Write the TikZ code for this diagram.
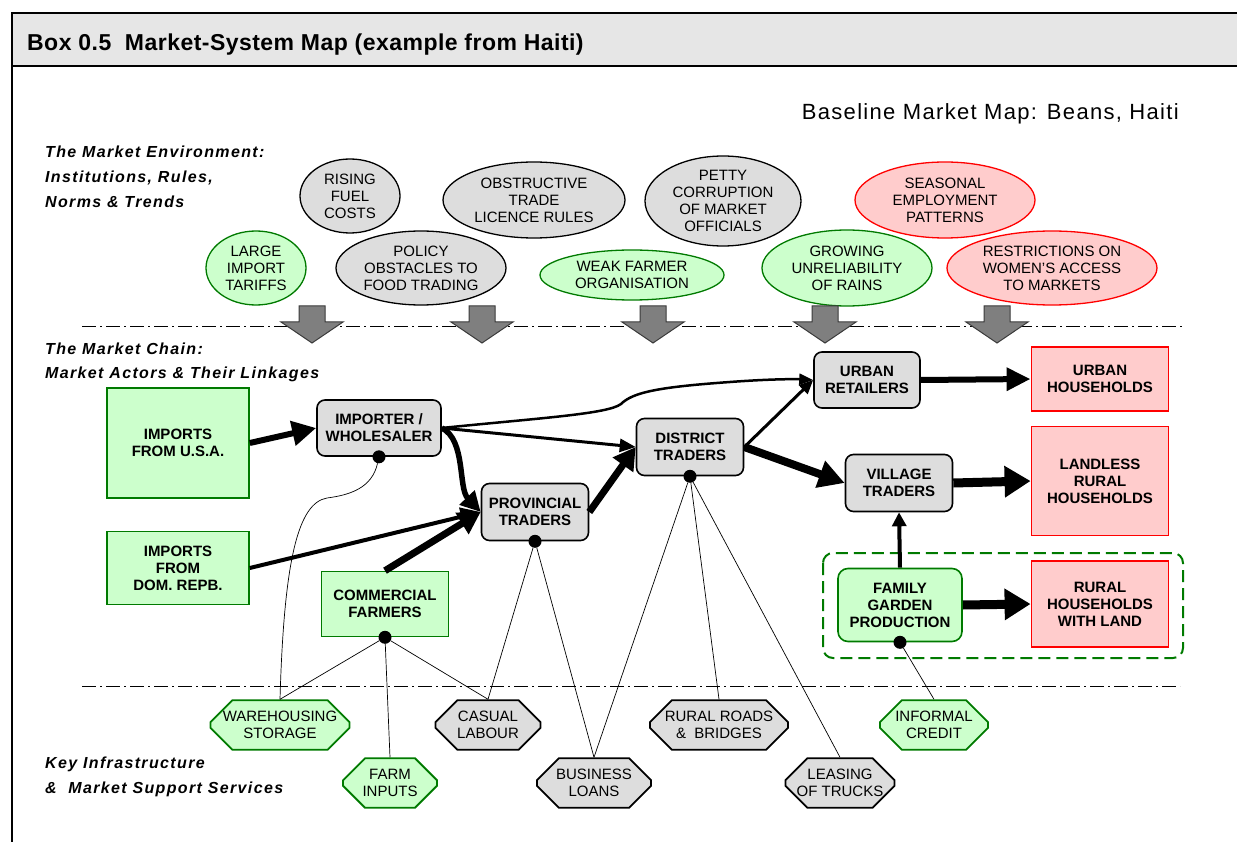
\documentclass[tikz,border=0pt]{standalone}
\usepackage{fontspec}
\setmainfont{Liberation Sans}
\newfontfamily\sectfont[LetterSpace=8.5]{Liberation Sans}
\newfontfamily\titlefont[LetterSpace=2]{Liberation Sans}
\newfontfamily\basefont[LetterSpace=6]{Liberation Sans}
\usetikzlibrary{shapes.geometric,shapes.misc,arrows.meta}
\definecolor{gfill}{HTML}{CCFFCC}
\definecolor{gline}{HTML}{007A00}
\definecolor{rfill}{HTML}{FFCCCC}
\definecolor{rline}{HTML}{FF0000}
\definecolor{nfill}{HTML}{DDDDDD}
\definecolor{hfill}{HTML}{E6E6E6}
\definecolor{afill}{HTML}{7F7F7F}
\definecolor{aline}{HTML}{3A3A3A}
\tikzset{
  reg/.style={font=\fontsize{15}{17}\selectfont, align=center, inner sep=0pt},
  bld/.style={font=\bfseries\fontsize{15}{17}\selectfont, align=center},
  sect/.style={font=\sectfont\bfseries\itshape\fontsize{16}{20}\selectfont, anchor=base west, inner sep=0pt},
  envell/.style={ellipse, draw, line width=1.3pt, inner sep=0pt},
  egray/.style={envell, fill=nfill, draw=black},
  egreen/.style={envell, fill=gfill, draw=gline},
  ered/.style={envell, fill=rfill, draw=rline},
  gbox/.style={bld, rectangle, fill=gfill, draw=gline, line width=1.6pt},
  rbox/.style={bld, rectangle, fill=rfill, draw=rline, line width=1.8pt},
  tbox/.style={bld, rectangle, rounded corners=8pt, fill=nfill, draw=black, line width=1.6pt},
  gtbox/.style={bld, rectangle, rounded corners=10pt, fill=gfill, draw=gline, line width=1.6pt},
  oct/.style={font=\fontsize{15}{17}\selectfont, align=center, chamfered rectangle, chamfered rectangle xsep=11pt, chamfered rectangle ysep=11pt, line width=1.8pt, inner sep=0pt},
  ogreen/.style={oct, fill=gfill, draw=gline},
  ogray/.style={oct, fill=nfill, draw=black},
  dot/.style={circle, fill=black, inner sep=0pt, minimum size=13pt},
  link/.style={draw=black, line width=0.7pt},
  fa/.style n args={3}{draw=black, line width=#1, -{Triangle[length=#2,width=#3]}},
  blockarrow/.style={fill=afill, draw=aline, line width=1pt},
  dashdot/.style={line width=0.9pt, dash pattern=on 14pt off 4pt on 2pt off 4pt},
}
\begin{document}
\begin{tikzpicture}[x=1pt,y=-1pt]
\useasboundingbox (0,0) rectangle (1237,842);
% frame and header
\fill[hfill] (12,13) rectangle (1237,66);
\draw[line width=2.5pt] (1237,13) -- (12,13) -- (12,842);
\draw[line width=2pt] (12,66) -- (1237,66);
\node[anchor=base west, inner sep=0pt, font=\titlefont\bfseries\fontsize{23}{26}\selectfont] (title) at (27,51) {Box 0.5\ \ Market-System Map (example from Haiti)};
\node[anchor=base east, inner sep=0pt, font=\basefont\fontsize{22}{26}\selectfont] (basel) at (1179,120) {Baseline Market Map: Beans, Haiti};

% section labels
\node[sect] (env1) at (45,158) {The Market Environment:};
\node[sect] (env2) at (45,183) {Institutions, Rules,};
\node[sect] (env3) at (45,208) {Norms \& Trends};
\node[sect] (ch1) at (45,355) {The Market Chain:};
\node[sect] (ch2) at (45,378) {Market Actors \& Their Linkages};
\node[sect] (key1) at (45,768) {Key Infrastructure};
\node[sect] (key2) at (45,793) {\&\ \ Market Support Services};

% separator lines
\draw[dashdot] (82,326) -- (1185,326);
\draw[dashdot] (82,686) -- (1180,686);

% environment ellipses (top row)
\node[egray, minimum width=100pt, minimum height=74pt] (e1) at (350,196) {};
\node[reg] at (e1) {RISING\\FUEL\\COSTS};
\node[egray, minimum width=182pt, minimum height=76pt] (e2) at (534,200) {};
\node[reg] at (e2) {OBSTRUCTIVE\\TRADE\\LICENCE RULES};
\node[egray, minimum width=156pt, minimum height=90pt] (e3) at (723,201) {};
\node[reg] at (e3) {PETTY\\CORRUPTION\\OF MARKET\\OFFICIALS};
\node[ered, minimum width=180pt, minimum height=76pt] (e4) at (945,200) {};
\node[reg] at (e4) {SEASONAL\\EMPLOYMENT\\PATTERNS};
% bottom row
\node[egreen, minimum width=100pt, minimum height=74pt] (e5) at (256,268) {};
\node[reg] at (e5) {LARGE\\IMPORT\\TARIFFS};
\node[egray, minimum width=170pt, minimum height=74pt] (e6) at (421,268) {};
\node[reg] at (e6) {POLICY\\OBSTACLES TO\\FOOD TRADING};
\node[egreen, minimum width=184pt, minimum height=50pt] (e7) at (632,275) {};
\node[reg] at (e7) {WEAK FARMER\\ORGANISATION};
\node[egreen, minimum width=170pt, minimum height=76pt] (e8) at (847,268) {};
\node[reg] at (e8) {GROWING\\UNRELIABILITY\\OF RAINS};
\node[ered, minimum width=210pt, minimum height=74pt] (e9) at (1052,268) {};
\node[reg] at (e9) {RESTRICTIONS ON\\WOMEN'S ACCESS\\TO MARKETS};

% influence block arrows
\foreach \cx in {312,482,653,825,997}
  \filldraw[blockarrow] (\cx-13,306) -- (\cx+13,306) -- (\cx+13,322) -- (\cx+31,322) -- (\cx,343) -- (\cx-31,322) -- (\cx-13,322) -- cycle;

% dashed grouping box
\draw[gline, line width=2pt, dash pattern=on 12pt off 6pt, rounded corners=10pt] (823,553) rectangle (1183,658);

% market chain actors
\node[gbox, minimum width=142pt, minimum height=110pt] (usa) at (178,443) {IMPORTS\\FROM U.S.A.};
\node[tbox, minimum width=124pt, minimum height=56pt] (imp) at (379,428) {IMPORTER /\\WHOLESALER};
\node[gbox, minimum width=142pt, minimum height=73pt] (dom) at (178,568) {IMPORTS\\FROM\\DOM. REPB.};
\node[tbox, minimum width=107pt, minimum height=57pt] (prov) at (535,512) {PROVINCIAL\\TRADERS};
\node[gbox, minimum width=127pt, minimum height=65pt] (com) at (385,604) {COMMERCIAL\\FARMERS};
\node[tbox, minimum width=107pt, minimum height=57pt] (dist) at (690,447) {DISTRICT\\TRADERS};
\node[tbox, minimum width=106pt, minimum height=56pt] (ret) at (867,380) {URBAN\\RETAILERS};
\node[tbox, minimum width=107pt, minimum height=57pt] (vil) at (899,483) {VILLAGE\\TRADERS};
\node[gtbox, minimum width=124pt, minimum height=73pt] (fam) at (900,605) {FAMILY\\GARDEN\\PRODUCTION};
\node[rbox, minimum width=137pt, minimum height=64pt] (uhh) at (1100,379) {URBAN\\HOUSEHOLDS};
\node[rbox, minimum width=137pt, minimum height=109pt] (lhh) at (1100,481) {LANDLESS\\RURAL\\HOUSEHOLDS};
\node[rbox, minimum width=137pt, minimum height=86pt] (whh) at (1100,604) {RURAL\\HOUSEHOLDS\\WITH LAND};

% support services
\node[ogreen, minimum width=139pt, minimum height=47pt] (ware) at (280,725) {WAREHOUSING\\STORAGE};
\node[ogreen, minimum width=94pt, minimum height=49pt] (farm) at (390,783) {FARM\\INPUTS};
\node[ogray, minimum width=105pt, minimum height=47pt] (cas) at (488,725) {CASUAL\\LABOUR};
\node[ogray, minimum width=114pt, minimum height=49pt] (loan) at (594,783) {BUSINESS\\LOANS};
\node[ogray, minimum width=138pt, minimum height=47pt] (road) at (719,725) {RURAL ROADS\\\&\ \ BRIDGES};
\node[ogray, minimum width=109pt, minimum height=49pt] (truck) at (840,783) {LEASING\\OF TRUCKS};
\node[ogreen, minimum width=108pt, minimum height=47pt] (cred) at (934,725) {INFORMAL\\CREDIT};

% dots
\node[dot] (impd) at (imp.south) {};
\node[dot] (provd) at (prov.south) {};
\node[dot] (comd) at (com.south) {};
\node[dot] (distd) at (dist.south) {};
\node[dot] (famd) at (fam.south) {};

% support links
\draw[link] (impd) .. controls (372,488) and (350,495) .. (327,498) .. controls (298,503) and (284,560) .. (ware.north);
\draw[link] (comd) -- (ware.north);
\draw[link] (comd) -- (farm.north);
\draw[link] (comd) -- (cas.north);
\draw[link] (provd) -- (cas.north);
\draw[link] (provd) -- (loan.north);
\draw[link] (distd) -- (loan.north);
\draw[link] (distd) -- (road.north);
\draw[link] (distd) -- (truck.north);
\draw[link] (famd) -- (cred.north);

% flows
\draw[fa={6pt}{24pt}{24pt}] (usa.east) -- (imp.west);
\draw[fa={5.5pt}{20pt}{20pt}] (imp.east) .. controls (466,440) and (458,488) .. (prov.west);
\draw[fa={3pt}{16pt}{13pt}] (imp.east) -- (dist.west);
\draw[fa={2.5pt}{14pt}{11pt}] (imp.east) .. controls (540,418) and (608,414) .. (621,404) .. controls (633,392) and (660,387) .. (730,382) .. controls (770,379) and (795,379) .. (ret.west);
\draw[fa={4pt}{20pt}{18pt}] (dom.east) -- (prov.west);
\draw[fa={7pt}{22pt}{24pt}] (com.north) -- (prov.west);
\draw[fa={7pt}{22pt}{24pt}] (prov.east) -- (dist.west);
\draw[fa={3pt}{14pt}{12pt}] (dist.east) -- (ret.west);
\draw[fa={8pt}{26pt}{27pt}] (dist.east) -- (vil.west);
\draw[fa={6pt}{24pt}{22pt}] (ret.east) -- (uhh.west);
\draw[fa={9pt}{26pt}{30pt}] (vil.east) -- (lhh.west);
\draw[fa={4pt}{14pt}{14pt}] (fam.north) -- (vil.south);
\draw[fa={9pt}{26pt}{30pt}] (fam.east) -- (whh.west);
\end{tikzpicture}
\end{document}
